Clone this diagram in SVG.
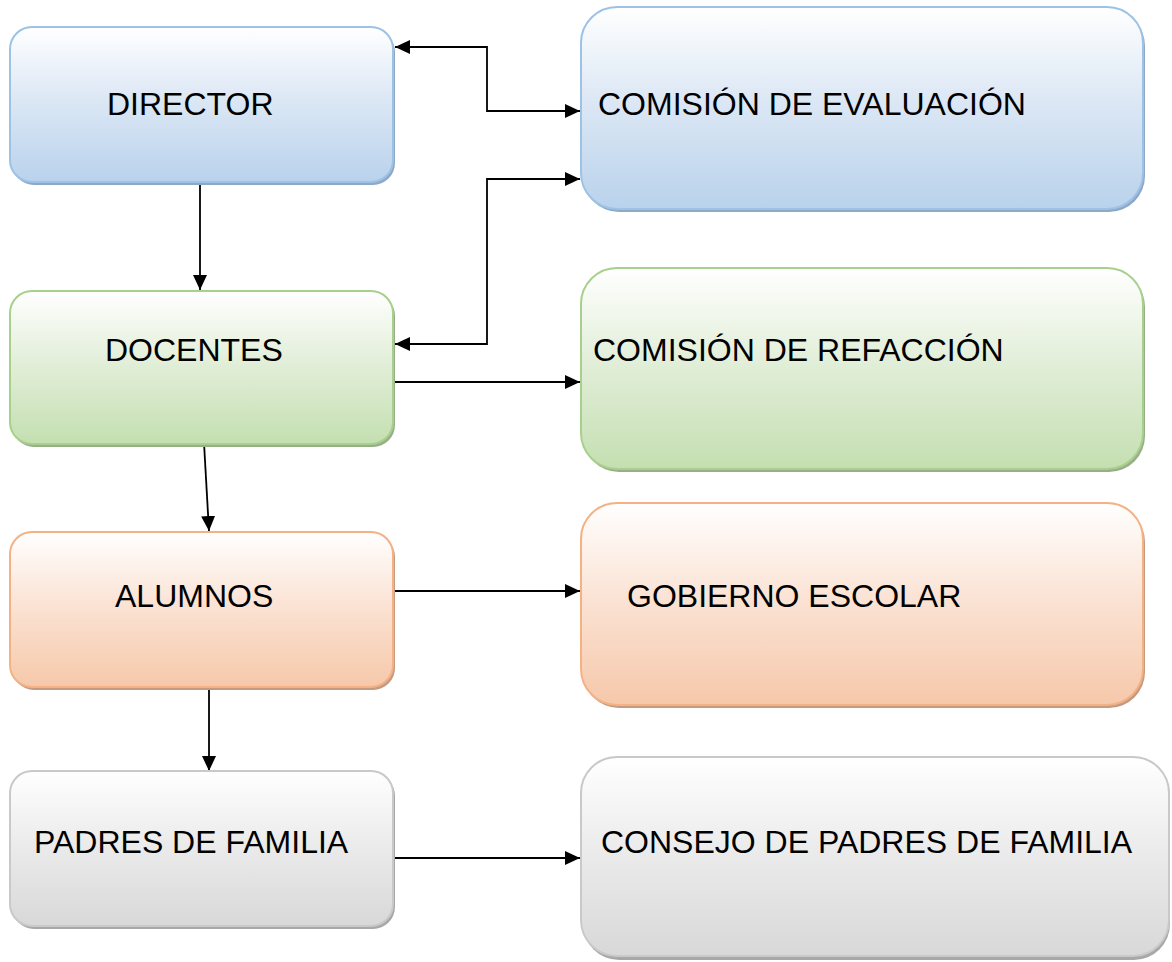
<svg xmlns="http://www.w3.org/2000/svg" width="1172" height="962" viewBox="0 0 1172 962">
<style>
.box{stroke-width:2}
.lbl{font-family:"Liberation Sans",Arial,sans-serif;font-size:32px;fill:#000}
.con{fill:none;stroke:#000;stroke-width:1.8}
</style>
<defs>
<linearGradient id="gBlue" x1="0" y1="0" x2="0" y2="1"><stop offset="0" stop-color="#ffffff"/><stop offset="0.45" stop-color="#dde8f5"/><stop offset="1" stop-color="#b9d2ec"/></linearGradient>
<linearGradient id="gGreen" x1="0" y1="0" x2="0" y2="1"><stop offset="0" stop-color="#ffffff"/><stop offset="0.45" stop-color="#e3efda"/><stop offset="1" stop-color="#c4dfb1"/></linearGradient>
<linearGradient id="gOrange" x1="0" y1="0" x2="0" y2="1"><stop offset="0" stop-color="#ffffff"/><stop offset="0.45" stop-color="#fbe4d6"/><stop offset="1" stop-color="#f6c8aa"/></linearGradient>
<linearGradient id="gGray" x1="0" y1="0" x2="0" y2="1"><stop offset="0" stop-color="#ffffff"/><stop offset="0.45" stop-color="#ececec"/><stop offset="1" stop-color="#d8d8d8"/></linearGradient>
<marker id="arr" markerUnits="userSpaceOnUse" markerWidth="18" markerHeight="16" refX="15" refY="7" orient="auto-start-reverse"><path d="M0,0 L15,7 L0,14 z" fill="#000"/></marker>
</defs>

<g id="connectors">
<path class="con" d="M395,47 H487 V111 H580" marker-start="url(#arr)" marker-end="url(#arr)"/>
<path class="con" d="M395,344 H487 V179 H580" marker-start="url(#arr)" marker-end="url(#arr)"/>
<path class="con" d="M200,180 V290" marker-end="url(#arr)"/>
<path class="con" d="M204,443 L209,531" marker-end="url(#arr)"/>
<path class="con" d="M395,382 H580" marker-end="url(#arr)"/>
<path class="con" d="M395,591 H580" marker-end="url(#arr)"/>
<path class="con" d="M209,686 V771" marker-end="url(#arr)"/>
<path class="con" d="M395,858 H580" marker-end="url(#arr)"/>
</g>

<g id="director">
<rect x="12" y="30" width="383" height="155" rx="22" fill="#8ea8c6"/>
<rect class="box" x="10" y="27" width="383" height="155" rx="22" fill="url(#gBlue)" stroke="#9cc2e5"/>
<text class="lbl" x="107" y="115">DIRECTOR</text>
</g>

<g id="comision-evaluacion">
<rect x="583" y="10" width="562" height="202" rx="36" fill="#8ea8c6"/>
<rect class="box" x="581" y="7" width="562" height="202" rx="36" fill="url(#gBlue)" stroke="#9cc2e5"/>
<text class="lbl" x="598" y="115">COMISIÓN DE EVALUACIÓN</text>
</g>

<g id="docentes">
<rect x="12" y="294" width="383" height="153" rx="22" fill="#98ae88"/>
<rect class="box" x="10" y="291" width="383" height="153" rx="22" fill="url(#gGreen)" stroke="#a8d08d"/>
<text class="lbl" x="105" y="361">DOCENTES</text>
</g>

<g id="comision-refaccion">
<rect x="583" y="271" width="562" height="201" rx="36" fill="#98ae88"/>
<rect class="box" x="581" y="268" width="562" height="201" rx="36" fill="url(#gGreen)" stroke="#a8d08d"/>
<text class="lbl" x="593" y="361">COMISIÓN DE REFACCIÓN</text>
</g>

<g id="alumnos">
<rect x="12" y="535" width="383" height="155" rx="22" fill="#c49a80"/>
<rect class="box" x="10" y="532" width="383" height="155" rx="22" fill="url(#gOrange)" stroke="#f4b183"/>
<text class="lbl" x="115" y="607">ALUMNOS</text>
</g>

<g id="gobierno-escolar">
<rect x="583" y="506" width="562" height="202" rx="36" fill="#c49a80"/>
<rect class="box" x="581" y="503" width="562" height="202" rx="36" fill="url(#gOrange)" stroke="#f4b183"/>
<text class="lbl" x="627" y="607">GOBIERNO ESCOLAR</text>
</g>

<g id="padres">
<rect x="12" y="774" width="383" height="155" rx="22" fill="#a8a8a8"/>
<rect class="box" x="10" y="771" width="383" height="155" rx="22" fill="url(#gGray)" stroke="#c9c9c9"/>
<text class="lbl" x="34" y="853">PADRES DE FAMILIA</text>
</g>

<g id="consejo-padres">
<rect x="583" y="760" width="587" height="200" rx="36" fill="#a8a8a8"/>
<rect class="box" x="581" y="757" width="588" height="199" rx="36" fill="url(#gGray)" stroke="#c9c9c9"/>
<text class="lbl" x="601" y="853">CONSEJO DE PADRES DE FAMILIA</text>
</g>
</svg>
